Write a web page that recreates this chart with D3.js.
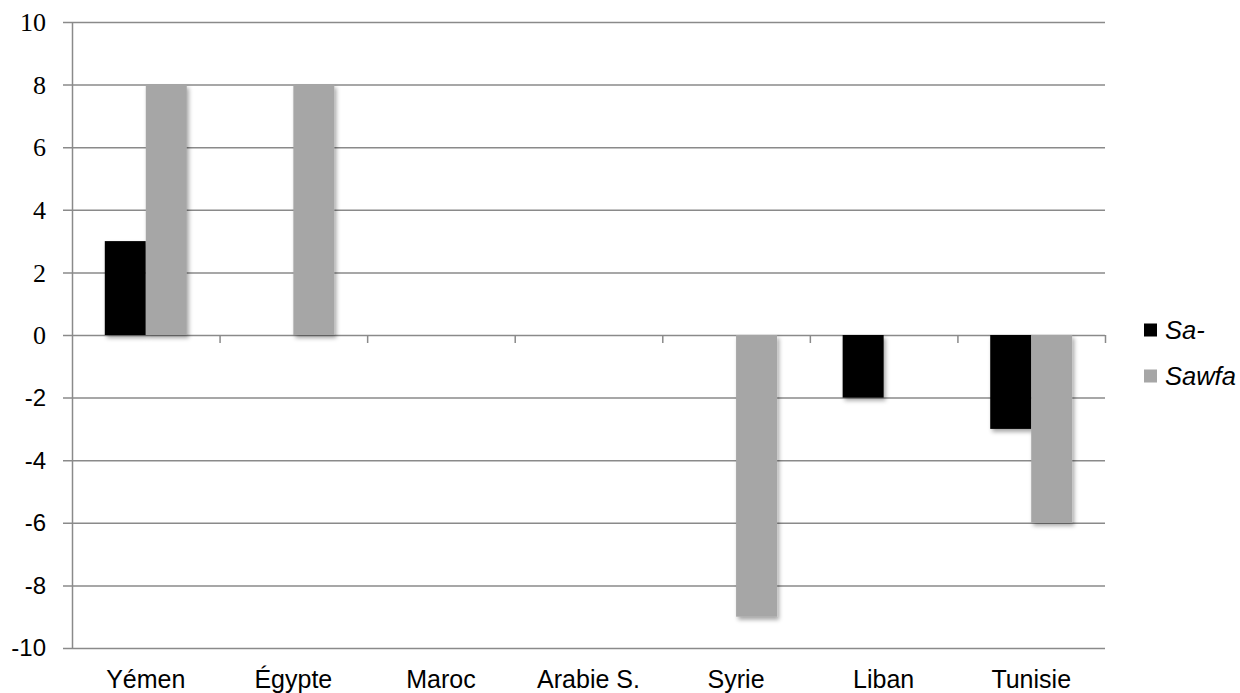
<!DOCTYPE html>
<html><head><meta charset="utf-8">
<script src="https://cdn.jsdelivr.net/npm/d3@7"></script>
<style>body{margin:0;background:#fff}svg{display:block}</style>
</head><body>
<svg id="c" width="1240" height="693"></svg>
<script>
const categories = ["Yémen","Égypte","Maroc","Arabie S.","Syrie","Liban","Tunisie"];
const seriesNames = ["Sa-","Sawfa"];
const saValues = [3,0,0,0,0,-2,-3];
const sawfaValues = [8,8,0,0,-9,0,-6];
const yTicks = [10,8,6,4,2,0,-2,-4,-6,-8,-10];
const colors = ["#000000","#a6a6a6"];

(function(){
const svg = d3.select("#c");
const pL = 72, pR = 1105, pT = 22, pB = 648;
const y = d3.scaleLinear().domain([-10,10]).range([pB,pT]);
const x = d3.scaleBand().domain(categories).range([pL,pR]).paddingInner(0).paddingOuter(0);
const bw = x.bandwidth()/3.6;
const xs = d3.scaleBand().domain(seriesNames).range([0,2*bw]);

const defs = svg.append("defs");
const f = defs.append("filter").attr("id","sh").attr("x","-20%").attr("y","-20%").attr("width","150%").attr("height","150%");
f.append("feDropShadow").attr("dx",2).attr("dy",3).attr("stdDeviation",2.2).attr("flood-color","#000").attr("flood-opacity",0.35);

const gridColor = "#8a8a8a";
svg.append("g").selectAll("line").data(yTicks).join("line")
  .attr("x1",pL-9).attr("x2",pR).attr("y1",d=>y(d)+0.5).attr("y2",d=>y(d)+0.5)
  .attr("stroke",gridColor).attr("stroke-width",1.5);
svg.append("line").attr("x1",pL+0.5).attr("x2",pL+0.5).attr("y1",pT).attr("y2",pB+1)
  .attr("stroke",gridColor).attr("stroke-width",1.5);
const bounds = categories.map(c=>x(c)).slice(1).concat([pR]);
svg.append("g").selectAll("line").data(bounds).join("line")
  .attr("x1",d=>d+0.5).attr("x2",d=>d+0.5).attr("y1",y(0)).attr("y2",y(0)+8)
  .attr("stroke",gridColor).attr("stroke-width",1.5);

const data = [];
categories.forEach((c,i)=>{
  data.push({c, s:"Sa-", v:saValues[i], col:colors[0]});
  data.push({c, s:"Sawfa", v:sawfaValues[i], col:colors[1]});
});
svg.append("g").selectAll("rect").data(data.filter(d=>d.v!==0)).join("rect")
  .attr("x",d=>x(d.c)+x.bandwidth()/2-bw+xs(d.s))
  .attr("width",bw)
  .attr("y",d=>y(Math.max(0,d.v)))
  .attr("height",d=>Math.abs(y(d.v)-y(0)))
  .attr("fill",d=>d.col)
  .attr("filter","url(#sh)");

svg.append("g").selectAll("text").data(yTicks).join("text")
  .attr("x",46).attr("y",d=>y(d)).attr("dy","0.35em")
  .attr("text-anchor","end")
  .attr("font-family",d=>d>=0?"'Liberation Serif','DejaVu Serif',serif":"'Liberation Sans',Arial,sans-serif")
  .attr("font-size",d=>d>=0?26:24)
  .attr("fill","#000")
  .text(d=>d);

svg.append("g").selectAll("text").data(categories).join("text")
  .attr("x",d=>x(d)+x.bandwidth()/2).attr("y",688)
  .attr("text-anchor","middle")
  .attr("font-family","'Liberation Sans',Arial,sans-serif").attr("font-size",25)
  .attr("fill","#000").text(d=>d);

const lg = svg.append("g");
seriesNames.forEach((s,i)=>{
  const cy = 330 + i*46;
  lg.append("rect").attr("x",1144).attr("y",cy-6.5).attr("width",13).attr("height",13).attr("fill",colors[i]);
  lg.append("text").attr("x",1165).attr("y",cy).attr("dy","0.35em")
    .attr("font-family","'Liberation Sans',Arial,sans-serif").attr("font-size",25.5)
    .attr("font-style","italic").attr("fill","#000").text(s);
});
})();
</script>
</body></html>
